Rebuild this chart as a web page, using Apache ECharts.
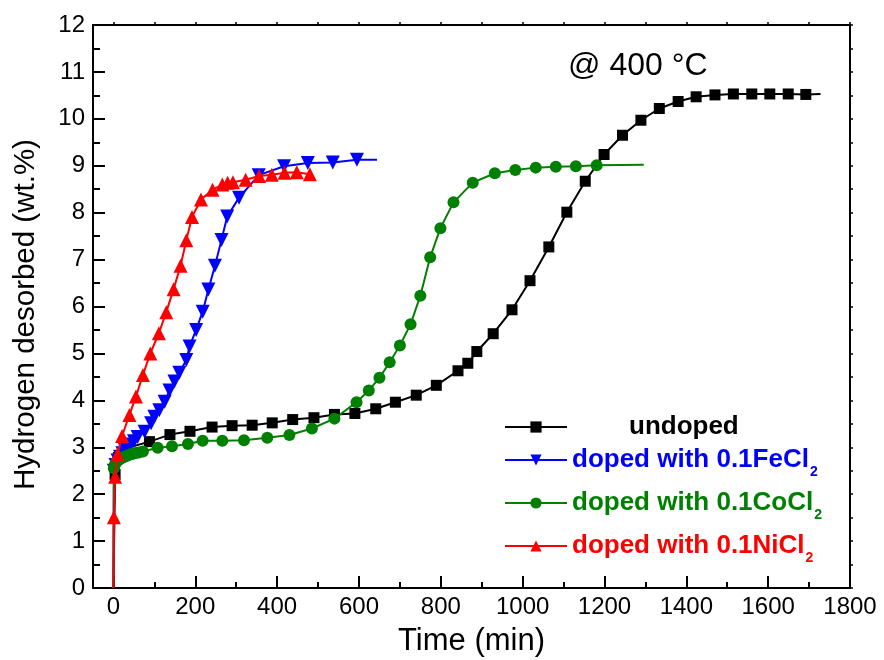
<!DOCTYPE html>
<html>
<head>
<meta charset="utf-8">
<script src="https://cdn.jsdelivr.net/npm/echarts@6/dist/echarts.min.js"></script>
<style>
html,body{margin:0;padding:0;background:#fff;}
#chart{width:884px;height:660px;}
</style>
</head>
<body>
<div id="chart"></div>
<script>
// ---- data ----
const undopedX = [0, 4, 12, 31, 88, 138, 187, 241, 290, 339, 388, 438, 490, 540, 590, 641, 689, 740, 789, 842, 866, 888, 928, 974, 1018, 1064, 1108, 1153, 1199, 1244, 1289, 1334, 1380, 1424, 1470, 1515, 1560, 1604, 1649, 1692, 1728];
const undopedY = [0, 2.42, 2.78, 2.98, 3.12, 3.27, 3.34, 3.43, 3.46, 3.47, 3.52, 3.59, 3.63, 3.70, 3.72, 3.82, 3.96, 4.11, 4.32, 4.63, 4.79, 5.04, 5.42, 5.93, 6.55, 7.27, 8.01, 8.67, 9.24, 9.65, 9.97, 10.22, 10.37, 10.47, 10.51, 10.53, 10.53, 10.53, 10.53, 10.52, 10.53];

const feX = [0, 1, 5, 10, 16, 22, 28, 35, 42, 50, 59, 76, 92, 100, 112, 125, 137, 149, 161, 178, 186, 202, 218, 232, 248, 264, 278, 307, 355, 417, 475, 536, 595, 644];
const feY = [0, 2.5, 2.62, 2.72, 2.8, 2.87, 2.94, 3.0, 3.06, 3.13, 3.22, 3.33, 3.51, 3.65, 3.79, 3.97, 4.21, 4.40, 4.59, 4.86, 5.15, 5.50, 5.89, 6.36, 6.87, 7.42, 7.92, 8.32, 8.80, 8.99, 9.06, 9.07, 9.13, 9.13];

const coX = [0, 1, 3, 6, 10, 15, 20, 25, 30, 36, 42, 48, 55, 62, 72, 108, 143, 182, 218, 266, 319, 376, 430, 485, 540, 594, 624, 650, 675, 700, 726, 750, 774, 799, 831, 878, 932, 982, 1032, 1081, 1130, 1181, 1296];
const coY = [0, 2.55, 2.62, 2.67, 2.71, 2.74, 2.77, 2.79, 2.81, 2.83, 2.85, 2.86, 2.88, 2.89, 2.91, 2.99, 3.02, 3.07, 3.14, 3.14, 3.15, 3.20, 3.26, 3.40, 3.61, 3.96, 4.21, 4.48, 4.81, 5.17, 5.62, 6.23, 7.05, 7.67, 8.22, 8.64, 8.84, 8.91, 8.96, 8.98, 8.99, 9.01, 9.02];

const niX = [0, 1, 4, 10, 21, 39, 55, 72, 90, 111, 129, 147, 164, 178, 192, 214, 242, 266, 279, 292, 323, 356, 387, 418, 448, 480];
const niY = [0, 1.51, 2.37, 2.85, 3.24, 3.69, 4.08, 4.54, 5.0, 5.43, 5.88, 6.37, 6.87, 7.41, 7.91, 8.28, 8.49, 8.60, 8.64, 8.65, 8.70, 8.78, 8.81, 8.85, 8.86, 8.82];

const seriesNames = ['undoped', 'doped with 0.1FeCl2', 'doped with 0.1CoCl2', 'doped with 0.1NiCl2'];
const xMajorTicks = [0, 200, 400, 600, 800, 1000, 1200, 1400, 1600, 1800];
const xMinorTicks = [100, 300, 500, 700, 900, 1100, 1300, 1500, 1700];
const xAllTicks = [0, 100, 200, 300, 400, 500, 600, 700, 800, 900, 1000, 1100, 1200, 1300, 1400, 1500, 1600, 1700, 1800];
const annotation = '@ 400 \u00B0C';

// ---- chart ----
const FONT = '"Liberation Sans", Arial, sans-serif';
function build(xs, ys, noTailMarker) {
  return xs.map((x, i) => {
    const item = { value: [x, ys[i]] };
    if (i === 0 || (noTailMarker && i === xs.length - 1)) item.symbol = 'none';
    return item;
  });
}
const colors = ['#000000', '#0000FF', '#008000', '#FF0000'];
const chart = echarts.init(document.getElementById('chart'), null, { renderer: 'canvas' });

function legendFor(idx, top, rich) {
  return {
    data: [seriesNames[idx]],
    left: 504, top: top, padding: 0,
    itemWidth: 62, itemHeight: 14,
    selectedMode: false,
    textStyle: { color: colors[idx], fontFamily: FONT, fontWeight: 'bold', fontSize: 26, rich: rich },
    formatter: function (name) {
      if (name === 'undoped') return '{u|' + name + '}';
      return '{m|' + name.slice(0, -1) + '}{s|' + name.slice(-1) + '}';
    }
  };
}
function richFor(idx) {
  const c = colors[idx];
  return {
    u: { color: c, fontFamily: FONT, fontWeight: 'bold', fontSize: 26, lineHeight: 30, padding: [0, 0, 0, 57] },
    m: { color: c, fontFamily: FONT, fontWeight: 'bold', fontSize: 26, lineHeight: 30 },
    s: { color: c, fontFamily: FONT, fontWeight: 'bold', fontSize: 14, lineHeight: 14, padding: [24, 0, 0, 1] }
  };
}

const axisLineStyle = { color: '#000', width: 2 };
const option = {
  backgroundColor: '#fff',
  animation: false,
  grid: { left: 93, top: 25, right: 34, bottom: 72, outerBoundsMode: 'none' },
  graphic: [{
    type: 'text', x: 568, y: 66,
    style: { text: annotation, font: '32px ' + FONT, fill: '#000', verticalAlign: 'middle' }
  }],
  legend: [
    legendFor(0, 414, richFor(0)),
    legendFor(1, 441, richFor(1)),
    legendFor(2, 484, richFor(2)),
    legendFor(3, 527, richFor(3))
  ],
  xAxis: [
    {
      type: 'value', position: 'bottom', min: -50, max: 1800,
      name: 'Time (min)', nameLocation: 'middle', nameGap: 38,
      nameTextStyle: { fontFamily: FONT, fontSize: 31, color: '#000' },
      axisLine: { show: true, onZero: false, lineStyle: axisLineStyle },
      axisTick: { show: true, inside: true, length: 12, customValues: xMajorTicks, lineStyle: { color: '#000', width: 2 } },
      axisLabel: { show: true, customValues: xMajorTicks, fontFamily: FONT, fontSize: 24, color: '#000', margin: 7,
        formatter: function (v) { return String(v); } },
      splitLine: { show: false }
    },
    {
      type: 'value', position: 'bottom', min: -50, max: 1800,
      axisLine: { show: false, onZero: false },
      axisTick: { show: true, inside: true, length: 6, customValues: xMinorTicks, lineStyle: { color: '#000', width: 2 } },
      axisLabel: { show: false },
      splitLine: { show: false }
    },
    {
      type: 'value', position: 'top', min: -50, max: 1800,
      axisLine: { show: true, onZero: false, lineStyle: axisLineStyle },
      axisTick: { show: true, inside: false, length: 3, customValues: xAllTicks, lineStyle: { color: '#000', width: 1.5 } },
      axisLabel: { show: false },
      splitLine: { show: false }
    }
  ],
  yAxis: [
    {
      type: 'value', position: 'left', min: 0, max: 12, interval: 1,
      name: 'Hydrogen desorbed (wt.%)', nameLocation: 'middle', nameGap: 52,
      nameTextStyle: { fontFamily: FONT, fontSize: 29.5, color: '#000', padding: [0, 16, 0, 0] },
      axisLine: { show: true, onZero: false, lineStyle: axisLineStyle },
      axisTick: { show: true, inside: true, length: 12, lineStyle: { color: '#000', width: 2 } },
      minorTick: { show: true, splitNumber: 2, length: 7, lineStyle: { color: '#000', width: 2 } },
      axisLabel: { fontFamily: FONT, fontSize: 24, color: '#000', margin: 8 },
      splitLine: { show: false }, minorSplitLine: { show: false }
    },
    {
      type: 'value', position: 'right', min: 0, max: 12, interval: 0.5,
      axisLine: { show: true, onZero: false, lineStyle: axisLineStyle },
      axisTick: { show: true, inside: false, length: 3, lineStyle: { color: '#000', width: 1.5 } },
      axisLabel: { show: false },
      splitLine: { show: false }
    }
  ],
  series: [
    {
      name: seriesNames[0], type: 'line', data: build(undopedX, undopedY, true),
      symbol: 'rect', symbolSize: 11, showAllSymbol: true,
      lineStyle: { color: colors[0], width: 2 }, itemStyle: { color: colors[0] }, z: 2
    },
    {
      name: seriesNames[1], type: 'line', data: build(feX, feY, true),
      symbol: 'triangle', symbolRotate: 180, symbolSize: 14, showAllSymbol: true,
      lineStyle: { color: colors[1], width: 2 }, itemStyle: { color: colors[1] }, z: 3
    },
    {
      name: seriesNames[2], type: 'line', data: build(coX, coY, true),
      symbol: 'circle', symbolSize: 12, showAllSymbol: true,
      lineStyle: { color: colors[2], width: 2 }, itemStyle: { color: colors[2] }, z: 4
    },
    {
      name: seriesNames[3], type: 'line', data: build(niX, niY, false),
      symbol: 'triangle', symbolSize: 14, showAllSymbol: true,
      lineStyle: { color: colors[3], width: 2 }, itemStyle: { color: colors[3] }, z: 5
    }
  ]
};
chart.setOption(option);
</script>
</body>
</html>
